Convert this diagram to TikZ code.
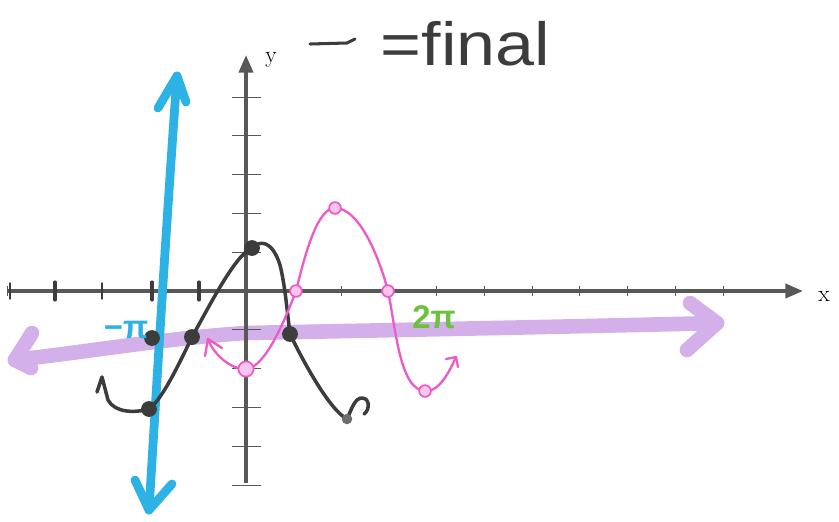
\documentclass[tikz,border=0pt]{standalone}
\usepackage{fontspec}
\newfontfamily\handfont{Liberation Sans}
\usetikzlibrary{arrows.meta}
\definecolor{axisgray}{HTML}{585858}
\definecolor{markblue}{HTML}{2DB2E6}
\definecolor{markpurple}{HTML}{D4B0EA}
\definecolor{markpink}{HTML}{EC5CC8}
\definecolor{markgreen}{HTML}{6CC23C}
\definecolor{markblack}{HTML}{3C3C3C}
\begin{document}
\begin{tikzpicture}[x=.03cm,y=-.03cm,
                    axis/.style={draw=axisgray,line width=3pt,-{Triangle[length=15pt,width=12pt]}},
                    tickmark/.style={draw=axisgray,line width=.7pt},
                    handtick/.style={draw=markblack,line width=2.6pt,line cap=round},
                    final/.style={draw=markblack,line width=3pt,line cap=round,line join=round},
                    pinkline/.style={draw=markpink,line width=2pt,line cap=round,line join=round},
                    blueline/.style={draw=markblue,line width=7.5pt,line cap=round,line join=round},
                    purpleline/.style={draw=markpurple,line width=12.5pt,line cap=round,line join=round},
                    bdot/.style={circle,fill=markblack,inner sep=0pt,minimum size=13.5pt},
                    pdot/.style={circle,draw=markpink,fill=markpink!35,line width=1.5pt,inner sep=0pt,minimum size=10pt},
                    handlabel/.style={font=\handfont\bfseries\fontsize{28}{28}\selectfont},
                    every node/.style={font=\fontsize{20}{20}\selectfont}]
 \useasboundingbox (0,0) rectangle (839,521);
 % wide purple stroke under everything
 \draw[purpleline] (15,360) .. controls (100,350) and (170,338) .. (246,333)
                   .. controls (400,330) and (600,326) .. (717,323);
 \draw[purpleline] (32,333) -- (15,360) -- (31,368);
 \draw[purpleline] (690,303) -- (717,323) -- (687,350);
 % axes and ticks
 \foreach \i in {-5,-4,-3,-2,-1,1,2,3,4,5,6,7,8,9,10}
   \draw[tickmark] ({246+47.7*\i},286) -- ++(0,10);
 \foreach \j in {-5,-4,-3,-2,-1,1,2,3,4,5}
   \draw[tickmark] (232,{291+38.8*\j}) -- (261,{291+38.8*\j});
 \draw[axis] (8,291) -- (803,291);
 \draw[axis] (246,483) -- (246,55);
 \foreach \hx in {55,152,199} \draw[handtick] (\hx,282) -- (\hx,300);
 \foreach \hx in {10,102} \draw[handtick,line width=1.2pt] (\hx,283) -- (\hx,299);
 \node (xlab) at (824,296) {x};
 \node (ylab) at (271,60) {y};
 % legend
 \draw[final,line width=2.6pt] (310,44) -- (347,43) -- (355,39);
 \node[anchor=base west,text=markblack,font=\handfont\fontsize{52}{52}\selectfont,xscale=1.15]
   (legend) at (376,65) {=final};
 % blue line
 \draw[blueline] (177,76) .. controls (168,200) and (160,330) .. (149,510);
 \draw[blueline] (158,108) -- (177,76) -- (186,102);
 \draw[blueline] (135,480) -- (149,510) -- (172,484);
 % final curve
 \coordinate (m1) at (149,409);
 \coordinate (c1) at (152,338);
 \coordinate (z1) at (192,337);
 \coordinate (top) at (252,248);
 \coordinate (z2) at (290,334);
 \coordinate (m2) at (347,419);
 \draw[final] (97,392) -- (102,377) -- (108,400) .. controls (115,413) and (135,413) .. (m1)
   .. controls (162,400) and (180,362) .. (z1)
   .. controls (210,305) and (235,255) .. (top)
   .. controls (260,240) and (272,240) .. (280,265)
   .. controls (285,285) and (287,310) .. (z2)
   .. controls (305,365) and (330,410) .. (m2)
   .. controls (352,408) and (355,398) .. (362,398)
   .. controls (370,398) and (370,410) .. (364,414);
 % pink curve
 \coordinate (p0) at (246,369);
 \coordinate (p1) at (296,291);
 \coordinate (p2) at (335,208);
 \coordinate (p3) at (388,291);
 \coordinate (p4) at (425,391);
 \draw[pinkline] (208,339) .. controls (212,352) and (230,370) .. (p0)
   .. controls (265,368) and (285,320) .. (p1)
   .. controls (306,250) and (318,208) .. (p2)
   .. controls (360,208) and (380,260) .. (p3)
   .. controls (396,330) and (400,390) .. (p4)
   .. controls (440,392) and (450,370) .. (456,357);
 \draw[pinkline] (205,356) -- (208,339) -- (222,348);
 \draw[pinkline] (446,359) -- (456,357) -- (458,367);
 \node[pdot,minimum size=13pt] (pd0) at (p0) {};
 \foreach \pt in {p1,p2,p3,p4} \node[pdot] (d\pt) at (\pt) {};
 % dots on the final curve
 \foreach \dt in {m1,c1,z1,top,z2} \node[bdot] (d\dt) at (\dt) {};
 \node[bdot,minimum size=9pt,fill=markblack!75] (dm2) at (m2) {};
 % hand labels
 \node[handlabel,text=markblue] (negpi) at (126,330) {−π};
 \node[handlabel,text=markgreen] (twopi) at (434,317) {2π};
\end{tikzpicture}
\end{document}
